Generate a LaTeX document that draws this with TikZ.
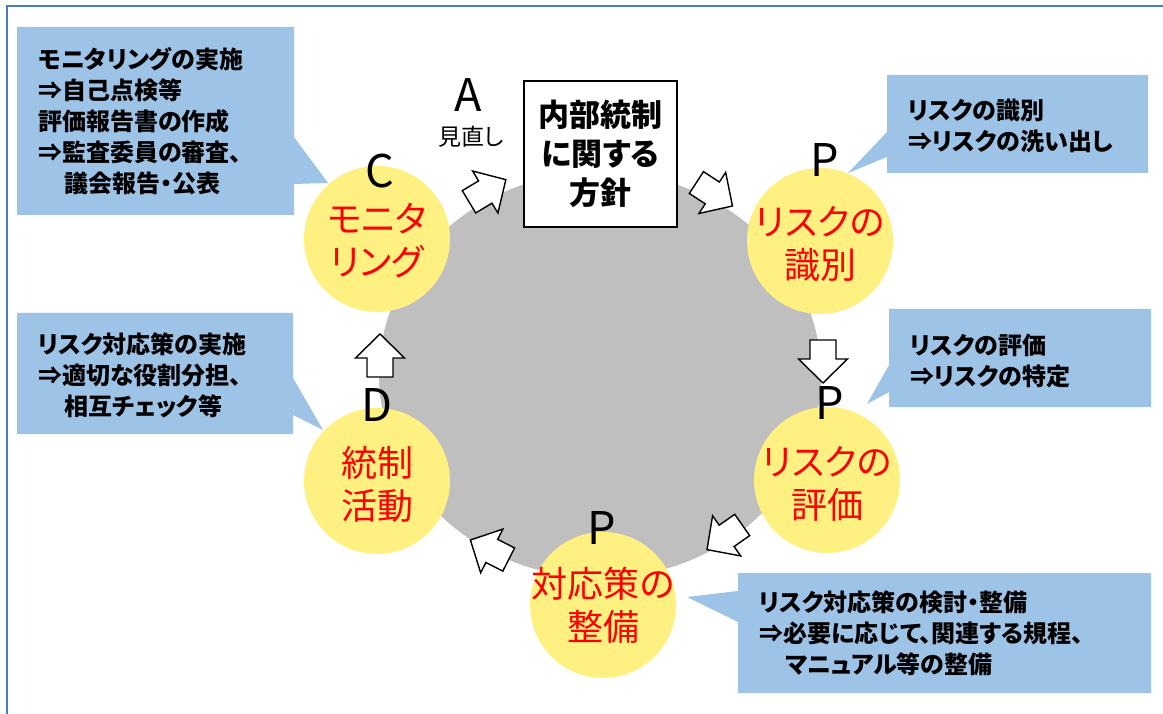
\documentclass[tikz,border=0pt]{standalone}
\usepackage{fontspec}
\newfontfamily\jp[RawFeature=+palt]{Noto Sans CJK JP}
\definecolor{framecol}{RGB}{74,126,187}
\definecolor{graycirc}{RGB}{191,191,191}
\definecolor{yelcirc}{RGB}{255,240,130}
\definecolor{callblue}{RGB}{157,195,230}
\definecolor{redtext}{RGB}{255,0,0}
\tikzset{
  yel/.style={fill=yelcirc, draw=none},
  callout/.style={fill=callblue, draw=none},
  ctext/.style={font=\jp\bfseries\fontsize{24}{31}\selectfont, align=left, anchor=west, inner sep=0pt},
  redlbl/.style={font=\jp\fontsize{36}{43}\selectfont, text=redtext, align=center, inner sep=0pt},
  bigletter/.style={font=\jp\fontsize{45}{45}\selectfont, inner sep=0pt},
  blockarrow/.pic={\draw[line width=1.4pt, fill=white, line join=miter]
     (-21,-13) -- (-2,-13) -- (-2,-24.5) -- (22,0) -- (-2,24.5) -- (-2,13) -- (-21,13) -- cycle;}
}
\begin{document}
\begin{tikzpicture}[x=1pt,y=-1pt]
\useasboundingbox (0,0) rectangle (1163,714);
\clip (0,0) rectangle (1163,714);
\fill[white] (0,0) rectangle (1163,714);
\draw[framecol, line width=2.5pt] (7,6) rectangle (1180,740);

% central gray disc
\fill[graycirc] (600,375) ellipse [x radius=221, y radius=203];

% yellow circles
\node[yel, circle, minimum size=146pt] (cC) at (377,239) {};
\node[yel, circle, minimum size=146pt] (cPi) at (820,241) {};
\node[yel, circle, minimum size=146pt] (cPe) at (827,480) {};
\node[yel, circle, minimum size=146pt] (cPc) at (603,605) {};
\node[yel, circle, minimum size=146pt] (cD) at (377,481) {};

% red labels
\node[redlbl] (tC) at (377,241) {モニタ\\リング};
\node[redlbl] (tPi) at (820,244) {リスクの\\識別};
\node[redlbl] (tPe) at (827,484) {リスクの\\評価};
\node[redlbl] (tPc) at (603,605) {対応策の\\整備};
\node[redlbl] (tD) at (377,484) {統制\\活動};

% letters
\node[bigletter] (lC) at (380,171) {C};
\node[bigletter] (lPi) at (825,160) {P};
\node[bigletter] (lPe) at (830,403) {P};
\node[bigletter] (lPc) at (602,528) {P};
\node[bigletter] (lD) at (377,405) {D};
\node[bigletter] (lA) at (468,95) {A};
\node[font=\jp\fontsize{23}{23}\selectfont, inner sep=0pt] (lAsub) at (471,137) {見直し};

% central box
\node[draw, line width=1.5pt, fill=white, minimum width=153pt, minimum height=146pt,
      font=\jp\bfseries\fontsize{31}{39}\selectfont, align=center, inner sep=0pt]
      (policy) at (600.5,154) {内部統制\\に関する\\方針};

% block arrows
\pic[rotate=31] (arrA) at (487,191) {blockarrow};
\pic[rotate=-33] (arrB) at (714,194) {blockarrow};
\pic[rotate=-90] (arrC) at (823,361) {blockarrow};
\pic[rotate=-145] (arrD) at (725,537) {blockarrow};
\pic[rotate=153] (arrE) at (490,550) {blockarrow};
\pic[rotate=90] (arrF) at (380,356) {blockarrow};

% callouts
\fill[callout] (17,27) -- (294,27) -- (294,137) -- (328,183) -- (294,184) -- (294,215) -- (17,215) -- cycle;
\node[ctext] (nC) at (38,121) {モニタリングの実施\\⇒自己点検等\\評価報告書の作成\\⇒監査委員の審査、\\\hspace*{1.1em}議会報告・公表};

\fill[callout] (887,75) -- (1148,75) -- (1148,173) -- (887,173) -- (887,157) -- (848,173) -- (887,132) -- cycle;
\node[ctext] (nPi) at (908,126) {リスクの識別\\⇒リスクの洗い出し};

\fill[callout] (889,309) -- (1151,309) -- (1151,407) -- (889,407) -- (889,392) -- (867,404) -- (889,365) -- cycle;
\node[ctext] (nPe) at (910,361) {リスクの評価\\⇒リスクの特定};

\fill[callout] (17,313) -- (293,313) -- (293,378) -- (323,430) -- (293,415) -- (293,434) -- (17,434) -- cycle;
\node[ctext] (nD) at (38,375) {リスク対応策の実施\\⇒適切な役割分担、\\\hspace*{1.1em}相互チェック等};

\fill[callout] (738,573) -- (1151,573) -- (1151,693) -- (738,693) -- (738,622) -- (687,597) -- (738,591) -- cycle;
\node[ctext] (nPc) at (759,633) {リスク対応策の検討・整備\\⇒必要に応じて、関連する規程、\\\hspace*{1.1em}マニュアル等の整備};
\end{tikzpicture}
\end{document}
